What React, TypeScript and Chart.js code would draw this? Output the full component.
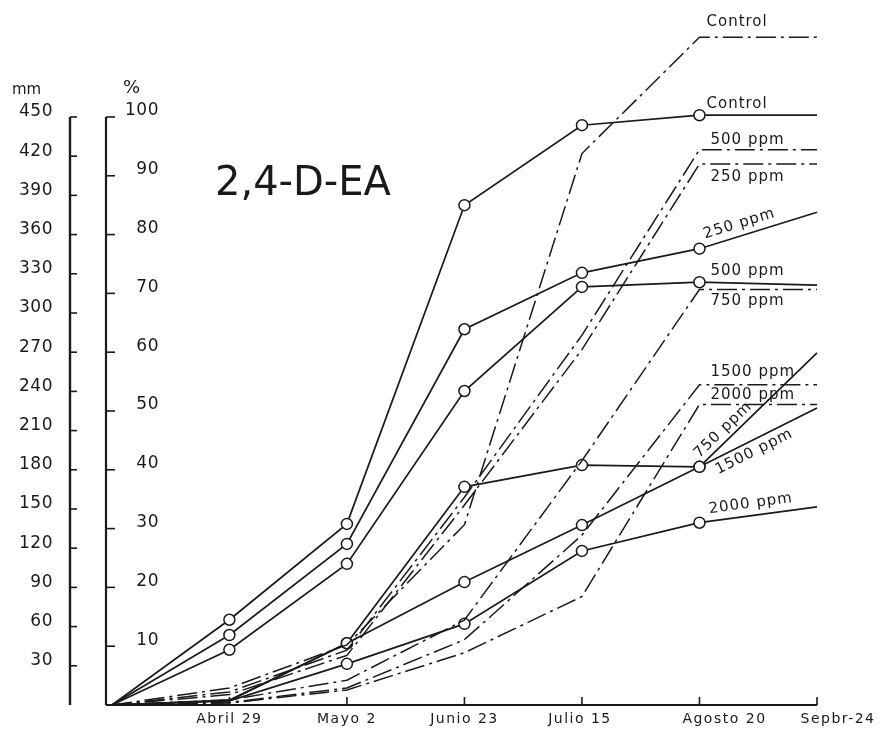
import React, { useEffect, useRef } from "react";
import { Chart, registerables } from "chart.js";
Chart.register(...registerables);

// ---------- data ----------
const categories = ["", "Abril 29", "Mayo 2", "Junio 23", "Julio 15", "Agosto 20", "Sepbr-24"];
const mmTicks = [30, 60, 90, 120, 150, 180, 210, 240, 270, 300, 330, 360, 390, 420, 450];
const pctTicks = [10, 20, 30, 40, 50, 60, 70, 80, 90, 100];

// solid lines with circles (% axis)
const controlPct = [0, 14.5, 30.8, 85.0, 98.6, 100.3, 100.3];
const ppm250Pct = [0, 11.9, 27.4, 63.9, 73.5, 77.6, 83.8];
const ppm500Pct = [0, 9.4, 24.0, 53.4, 71.1, 71.9, 71.4];
const ppm750Pct = [0, 0.8, 10.5, 37.1, 40.8, 40.5, 59.9];
const ppm1500Pct = [0, 0.8, 10.5, 20.9, 30.6, 40.5, 50.5];
const ppm2000Pct = [0, 0.7, 7.0, 13.8, 26.2, 31.0, 33.7];

// dash-dot lines (mm axis)
const controlMm = [0, 13, 46, 138, 422, 511, 511];
const ppm500Mm = [0, 10, 42, 159, 283, 425, 425];
const ppm250Mm = [0, 8, 38, 153, 272, 414, 414];
const ppm750Mm = [0, 4, 19, 65, 187, 318, 318];
const ppm1500Mm = [0, 2, 13, 50, 130, 245, 245];
const ppm2000Mm = [0, 1.5, 11.5, 40, 83, 230, 230];

const INK = "#1a1a1a";
const FONT = "'DejaVu Sans', sans-serif";
const DASHDOT = [20, 5, 3, 5];

type Lbl = { text: string; dx: number; dy: number; rot: boolean };

const series: { values: number[]; axis: string; solid: boolean; label: Lbl }[] = [
  { values: controlMm, axis: "y2", solid: false, label: { text: "Control", dx: 7, dy: -15, rot: false } },
  { values: ppm500Mm, axis: "y2", solid: false, label: { text: "500 ppm", dx: 11, dy: -10, rot: false } },
  { values: ppm250Mm, axis: "y2", solid: false, label: { text: "250 ppm", dx: 11, dy: 13, rot: false } },
  { values: ppm750Mm, axis: "y2", solid: false, label: { text: "750 ppm", dx: 11, dy: 12, rot: false } },
  { values: ppm1500Mm, axis: "y2", solid: false, label: { text: "1500 ppm", dx: 11, dy: -13, rot: false } },
  { values: ppm2000Mm, axis: "y2", solid: false, label: { text: "2000 ppm", dx: 11, dy: -9, rot: false } },
  { values: controlPct, axis: "y", solid: true, label: { text: "Control", dx: 7, dy: -11, rot: false } },
  { values: ppm250Pct, axis: "y", solid: true, label: { text: "250 ppm", dx: 8, dy: -12, rot: true } },
  { values: ppm500Pct, axis: "y", solid: true, label: { text: "500 ppm", dx: 11, dy: -11, rot: false } },
  { values: ppm750Pct, axis: "y", solid: true, label: { text: "750 ppm", dx: 4, dy: -10, rot: true } },
  { values: ppm1500Pct, axis: "y", solid: true, label: { text: "1500 ppm", dx: 12, dy: 11, rot: true } },
  { values: ppm2000Pct, axis: "y", solid: true, label: { text: "2000 ppm", dx: 11, dy: -12, rot: true } },
];

const MM_MAX = 520;
const PCT_MAX = MM_MAX / 4.5;

const decor = {
  id: "decor",
  afterDraw(chart: any) {
    const ctx = chart.ctx as CanvasRenderingContext2D;
    const xs = chart.scales.x;
    const yP = chart.scales.y;
    const yM = chart.scales.y2;
    const ca = chart.chartArea;
    const line = (x1: number, y1: number, x2: number, y2: number) => {
      ctx.beginPath();
      ctx.moveTo(x1, y1);
      ctx.lineTo(x2, y2);
      ctx.stroke();
    };
    ctx.save();
    ctx.strokeStyle = INK;
    ctx.fillStyle = INK;
    ctx.lineWidth = 2.2;
    ctx.setLineDash([]);
    const bottom = yP.getPixelForValue(0);

    // % axis
    const xa = ca.left;
    const pTop = yP.getPixelForValue(100);
    line(xa, bottom, xa, pTop);
    ctx.lineWidth = 1.6;
    pctTicks.forEach((v) => {
      const py = yP.getPixelForValue(v);
      line(xa, py, xa + 9, py);
    });
    ctx.font = `17px ${FONT}`;
    (ctx as any).letterSpacing = "0.5px";
    ctx.textAlign = "right";
    ctx.textBaseline = "middle";
    pctTicks.forEach((v) => {
      ctx.fillText(String(v), xa + 53, yP.getPixelForValue(v) - 6);
    });

    // mm axis
    const xm = xa - 36;
    ctx.lineWidth = 2.4;
    line(xm, bottom, xm, yM.getPixelForValue(450));
    ctx.lineWidth = 1.6;
    mmTicks.forEach((v) => {
      const py = yM.getPixelForValue(v);
      line(xm, py, xm + 7, py);
    });
    (ctx as any).letterSpacing = "0.5px";
    mmTicks.forEach((v) => {
      ctx.fillText(String(v), xm - 17, yM.getPixelForValue(v) - 5);
    });

    // unit labels
    ctx.textAlign = "left";
    ctx.font = `15px ${FONT}`;
    (ctx as any).letterSpacing = "0px";
    ctx.fillText("mm", xm - 58, pTop - 27);
    ctx.font = `18px ${FONT}`;
    ctx.fillText("%", xa + 17, pTop - 29);

    // x axis
    ctx.lineWidth = 2.2;
    line(xa, bottom, xs.getPixelForValue(6), bottom);
    ctx.lineWidth = 1.6;
    for (let i = 1; i < categories.length; i++) {
      const px = xs.getPixelForValue(i);
      line(px, bottom, px, bottom - 8);
    }
    const xOff = [0, 0, 0, 0, -2, 25, 21];
    ctx.font = `14px ${FONT}`;
    (ctx as any).letterSpacing = "1.5px";
    ctx.textAlign = "center";
    for (let i = 1; i < categories.length; i++) {
      ctx.fillText(categories[i], xs.getPixelForValue(i) + xOff[i], bottom + 14);
    }

    // series labels
    ctx.font = `15px ${FONT}`;
    (ctx as any).letterSpacing = "1px";
    ctx.textAlign = "left";
    series.forEach((s) => {
      const ys = s.axis === "y" ? yP : yM;
      const x5 = xs.getPixelForValue(5);
      const y5 = ys.getPixelForValue(s.values[5]);
      const x6 = xs.getPixelForValue(6);
      const y6 = ys.getPixelForValue(s.values[6]);
      const lx = x5 + s.label.dx;
      const ly = y5 + ((y6 - y5) * (lx - x5)) / (x6 - x5);
      if (s.label.rot) {
        const ang = Math.atan2(y6 - y5, x6 - x5);
        ctx.save();
        ctx.translate(lx, ly);
        ctx.rotate(ang);
        ctx.fillText(s.label.text, 0, s.label.dy);
        ctx.restore();
      } else {
        ctx.fillText(s.label.text, lx, ly + s.label.dy);
      }
    });

    // title
    ctx.font = `40px ${FONT}`;
    (ctx as any).letterSpacing = "0px";
    ctx.textBaseline = "alphabetic";
    ctx.fillText("2,4-D-EA", xa + 109, pTop + 78);
    ctx.restore();
  },
};

export default function App() {
  const ref = useRef<HTMLCanvasElement>(null);
  useEffect(() => {
    if (!ref.current) return;
    const datasets = series.map((s) => ({
      data: s.values.map((v, i) => ({ x: i, y: v })),
      yAxisID: s.axis,
      borderColor: INK,
      borderWidth: s.solid ? 1.7 : 1.5,
      borderDash: s.solid ? [] : DASHDOT,
      tension: 0,
      fill: false,
      clip: false as any,
      pointRadius: s.solid
        ? (c: any) => (c.dataIndex >= 1 && c.dataIndex <= 5 && c.raw && c.raw.y > 3 ? 5.5 : 0)
        : 0,
      pointBackgroundColor: "#ffffff",
      pointBorderColor: INK,
      pointBorderWidth: 1.5,
      pointHoverRadius: 0,
    }));
    const chart = new Chart(ref.current, {
      type: "line",
      data: { datasets },
      plugins: [decor],
      options: {
        animation: false,
        responsive: false,
        events: [],
        layout: { padding: { left: 106, right: 74, top: 25.5, bottom: 29 } },
        plugins: { legend: { display: false }, tooltip: { enabled: false }, title: { display: false } },
        scales: {
          x: { type: "linear", min: -0.05, max: 6, display: false },
          y: { type: "linear", min: 0, max: PCT_MAX, display: false },
          y2: { type: "linear", min: 0, max: MM_MAX, display: false },
        },
      },
    } as any);
    return () => chart.destroy();
  }, []);
  return (
    <div style={{ position: "absolute", left: 0, top: 0, width: 891, height: 734, background: "#fff" }}>
      <canvas ref={ref} width={891} height={734} />
    </div>
  );
}
